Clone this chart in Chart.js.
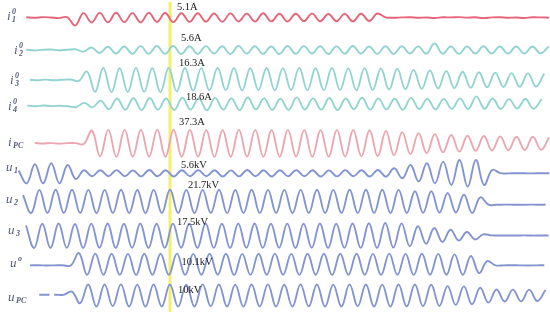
<!DOCTYPE html>
<html>
<head>
<meta charset="utf-8">
<script src="https://cdn.jsdelivr.net/npm/chart.js@4.4.1/dist/chart.umd.min.js"></script>
<style>
    html, body { margin: 0; padding: 0; background: #fff; }
</style>
</head>
<body>
<canvas id="oscilograma" width="550" height="318"></canvas>
<script>
// eixo do tempo em ms (0 = marca amarela), amostras a cada meio ciclo de 50 Hz
const inicioTempo = -208.2;
const fimTempo = 465.4;
const passo = 10;
const instanteMarca = 0;

// picos e vales (A ou kV)
const i1Inicio = -176.0;
const i1 = [0.3, -0.3, 0.4, 0.0, -0.7, 0.3, -9.0,
    5.0, -5.6, 5.2, -5.4, 5.4, -5.2, 5.0, -5.6, 5.3, -5.0, 5.1, -5.2, 4.8, -5.0, 4.9, -4.8, 4.6, -4.9, 4.7, -4.5,
    4.4, -4.6, 4.8, -4.4, 4.2, -4.5, 4.3, -4.1, 4.4, -4.2, 4.0, -4.3, 4.1, -4.4, 4.2, -3.9, 4.5,
    0.2, -0.3, 0.1, 0.3, -0.2, 0.0, -0.6, 0.2, 0.1, 0.4, -0.1, 0.2, -0.7, 0.1, 0.3, -0.2, 0.0, -0.5, 0.2, 0.1, -0.2];

const i2Inicio = -176.1;
const i2 = [0.4, -0.5, 0.3, 0.6, -0.4, 0.3, 1.0, -2.2, 3.5,
    -4.2, 4.6, -5.0, 5.0, -5.3, 5.4, -5.2, 5.6, -5.4, 5.6,
    -5.5, 5.3, -5.6, 5.4, -5.0, 5.2, -5.5, 5.6, -5.1, 5.3,
    -5.4, 5.0, -5.6, 5.5, -5.2, 5.4, -5.0, 5.3, -5.5, 5.1,
    -5.3, 5.6, -5.2, 5.0, -5.4, 5.2, -5.5, 5.3, -5.0, 5.1,
    -5.3, 9.0, -5.2, 5.0, -5.4, 4.9, -5.0, 5.2, -4.8, 5.0,
    -5.1, 4.8, -4.9, 5.0, -4.7, 4.9];

const i3Inicio = -171.7;
const i3 = [0.4, -0.3, 0.5, -0.4, 0.3, 0.6, -1.2, 11.5,
    -16.0, 16.3, -16.5, 16.0, -16.3, 16.5, -16.2, 16.0, -16.4, 16.3,
    -15.5, 16.4, -14.5, 16.2, -14.0, 16.5, -13.8, 16.3, -14.2, 16.0,
    -13.5, 16.4, -14.0, 16.2, -13.6, 16.5, -14.1, 16.0, -13.8, 16.3,
    -13.5, 15.8, -13.9, 16.1, -13.4, 15.6, -13.0, 15.2, -12.5, 13.8,
    -11.8, 13.0, -11.5, 12.0, -11.0, 11.2, -10.5, 10.6, -9.8, 10.0,
    -9.5, 9.4, -9.2, 9.0, -8.8, 8.8];

const i4Inicio = -174.8;
const i4 = [-3.5, -5.2, -3.0, -5.0, -3.8, -5.5, -8.0, 5.0,
    -9.0, 12.0, -15.0, 18.6, -16.5, 19.5, -17.5, 20.0, -16.0, 18.6,
    -17.0, 21.0, -15.5, 19.0, -18.0, 20.5, -16.0, 18.5, -17.5, 21.5,
    -15.0, 19.5, -17.0, 18.0, -16.5, 22.0, -15.5, 19.0, -16.0, 20.0,
    -17.5, 18.5, -14.5, 21.0, -16.0, 19.0, -15.0, 18.0, -16.5, 20.5,
    -14.0, 18.0, -15.5, 17.5, -13.5, 19.0, -14.5, 25.0, -13.0, 18.5,
    -14.0, 16.5, -12.5, 17.0, -13.0, 17.0];

const iPCInicio = -165.6;
const iPC = [0.8, -0.6, 0.5, -0.9, 0.4, 0.5, -2.0, 35.0,
    -36.0, 37.0, -37.5, 37.0, -37.0, 37.5, -36.5, 37.3, -37.0, 37.3,
    -37.0, 37.5, -36.8, 37.0, -37.2, 36.8, -37.0, 37.4, -36.6, 37.0,
    -37.3, 36.9, -37.0, 37.2, -36.7, 37.0, -37.1, 36.8, -36.9, 37.0,
    -36.5, 36.6, -36.2, 36.0, -35.5, 34.0, -33.0, 31.0, -30.0, 28.0,
    -27.0, 25.0, -25.0, 23.0, -23.0, 21.0, -21.0, 20.0, -20.0, 19.0,
    -19.0, 18.0, -18.5, 18.0, -18.0, 17.0];

const u1Inicio = -185.4;
const u1 = [5.0, -18.7,
    16.8, -18.7, 18.7, -18.7, 15.5, -10.6, 5.6, -5.6,
    5.8, -5.4, 6.0, -5.6, 5.5, -5.8, 6.2, -5.5, 5.6, -5.9,
    5.7, -5.6, 6.0, -5.4, 5.8, -6.0, 5.5, -5.7, 6.1, -5.5,
    5.6, -5.9, 5.8, -5.6, 6.0, -5.5, 5.7, -6.1, 5.5, -5.8,
    6.0, -5.6, 5.8, -6.0,
    6.2, -6.2, 9.3, -9.3, 15.5, -15.5, 18.7, -18.7, 21.8, -21.8, 24.8, -24.8, 24.8, -21.8, 6.2,
    0.3, -0.2, 0.2, 0.0, -0.1, 0.2, 0.0];

const u2Inicio = -180.0;
const u2 = [12.0,
    -21.7, 21.5, -21.3, 21.7, -21.5, 21.8, -21.4, 21.6, -21.7, 21.5,
    -21.3, 21.7, -21.6, 21.4, -21.8, 21.6, -21.5, 21.7, -21.4, 21.6,
    -21.7, 21.5, -21.3, 21.8, -21.6, 21.4, -21.5, 21.7, -21.6, 21.5,
    -21.4, 21.6, -21.7, 21.5, -21.3, 21.8, -21.5, 21.6, -21.4, 21.7, -21.5,
    21.9, -21.3, 21.9, -21.3, 21.5, -21.3, 18.9, -21.0, 18.9, -20.5, 15.8, -20.5, 12.6, -21.3, 7.8, -5.9,
    -6.0, -5.8, -5.9, -6.0, -5.8, -5.9, -5.9];

const u3Inicio = -176.4;
const u3 = [14.0,
    -17.5, 16.5, -17.5, 16.8, -17.3, 16.2, -17.6, 16.6, -17.2, 16.9,
    -17.5, 16.4, -17.3, 16.8, -17.5, 16.5, -17.4, 16.7, -17.2, 16.4,
    -17.6, 16.8, -17.3, 16.5, -17.5, 16.6, -17.2, 16.9, -17.4, 16.5,
    -17.3, 16.7, -17.5, 16.4, -17.2, 16.8, -17.6, 16.5, -17.3, 16.9,
    -17.4, 17.2, -17.5,
    17.5, -17.0, 17.0, -15.0, 13.0, -11.5, 10.5, -9.0, 8.0, -7.0, 5.0, -5.5, 1.5,
    0.2, -0.1, 0.1, 0.0, 0.2, -0.1, 0.0, 0.1];

const u0Inicio = -171.5;
const u0 = [-1.0, -0.9, -1.1, -1.0, -0.9, -1.2, 10.8,
    -10.1, 10.3, -10.0, 10.2, -10.1, 10.0, -10.3, 10.1, -10.0, 10.2,
    -10.1, 10.3, -10.2, 10.0, -10.1, 10.2, -10.0, 10.1, -10.3, 10.0,
    -10.2, 10.1, -10.0, 10.3, -10.1, 10.0, -10.2, 10.1, -10.0, 10.2,
    -10.3, 10.1, -10.0, 10.2, -10.1, 10.0, -10.2, 10.3, -10.1, 10.0,
    -10.2, 10.1, -10.0, 10.0, -10.1,
    9.5, -10.0, 8.0, -8.5, 3.0, -1.0,
    -1.0, -0.9, -1.0, -1.1, -1.0, -0.9];

const uPCInicio = -160.1;
const uPC = [0.7, 0.7, 0.7, 0.7, 3.5, -7.0, 10.0,
    -10.0, 10.0, -9.8, 10.1, -10.0, 9.9, -10.1, 10.0, -9.9, 10.0,
    -10.1, 9.9, -10.0, 10.1, -9.8, 10.0, -10.0, 9.9, -10.1, 10.0,
    -9.9, 10.1, -10.0, 9.8, -10.0, 10.1, -9.9, 10.0, -10.1, 9.9,
    -10.0, 10.1, -9.8, 10.0, -10.0, 9.9, -10.1, 10.0, -9.9, 10.0, -9.8,
    9.8, -9.5, 8.5, -8.5, 8.3, -8.0, 7.0, -6.5, 5.5, -5.5, 5.3, -5.3, 5.3, -5.0, 5.0];

const nomesCanais = [
    { letra: 'i', sup: '0', sub: '1' },
    { letra: 'i', sup: '0', sub: '2' },
    { letra: 'i', sup: '0', sub: '3' },
    { letra: 'i', sup: '0', sub: '4' },
    { letra: 'i', sup: '', sub: 'PC' },
    { letra: 'u', sup: '', sub: '1' },
    { letra: 'u', sup: '', sub: '2' },
    { letra: 'u', sup: '', sub: '3' },
    { letra: 'u', sup: 'o', sub: '' },
    { letra: 'u', sup: '', sub: 'PC' }
];
const valoresMarca = ['5.1A', '5.6A', '16.3A', '18.6A', '37.3A', '5.6kV', '21.7kV', '17.5kV', '10.1kV', '10kV'];

// layout de cada canal: linha de base (px), ganho (px por unidade), cor
const altura = 318;
const canais = [
    { serie: i1, inicio: i1Inicio, base: 17.5, ganho: 0.882, cor: '#e6657a' },
    { serie: i2, inicio: i2Inicio, base: 50, ganho: 0.714, cor: '#93d4d0' },
    { serie: i3, inicio: i3Inicio, base: 80, ganho: 0.736, cor: '#93d4d0' },
    { serie: i4, inicio: i4Inicio, base: 104.5, ganho: 0.323, cor: '#93d4d0' },
    { serie: iPC, inicio: iPCInicio, base: 143.3, ganho: 0.362, cor: '#eba6b1' },
    { serie: u1, inicio: u1Inicio, base: 173.3, ganho: 0.536, cor: '#8494d0' },
    { serie: u2, inicio: u2Inicio, base: 201.5, ganho: 0.539, cor: '#8494d0' },
    { serie: u3, inicio: u3Inicio, base: 235.5, ganho: 0.714, cor: '#8494d0' },
    { serie: u0, inicio: u0Inicio, base: 264.3, ganho: 1.04, cor: '#8494d0' },
    { serie: uPC, inicio: uPCInicio, base: 295.5, ganho: 1.1, cor: '#8494d0' }
];
const posNomes = [[7, 20], [14, 54], [10, 84], [8, 110], [8, 146], [6, 171], [6, 203], [8, 234], [10, 267], [8, 301]];
const posValores = [[7, 7], [11, 38], [9, 63], [16, 97], [9, 122], [11, 165], [18, 185], [7, 222], [11.5, 262], [8, 290]];

window.onload = criarGrafico;

function criarGrafico() {
    const datasets = new Array();
    const escalas = {
        x: { type: 'linear', display: false, min: inicioTempo, max: fimTempo }
    };

    canais.forEach((canal, n) => {
        const eixo = 'y' + n;
        escalas[eixo] = {
            type: 'linear',
            display: false,
            min: -(altura - canal.base) / canal.ganho,
            max: canal.base / canal.ganho
        };
        datasets.push({
            data: canal.serie.map((v, k) => ({ x: canal.inicio + k * passo, y: v })),
            yAxisID: eixo,
            borderColor: canal.cor,
            borderWidth: 1.9,
            pointRadius: 0,
            tension: 0.4,
            // trecho inicial tracejado do u_PC
            segment: n == 9 ? { borderDash: ctx => ctx.p1DataIndex <= 3 ? [10, 5] : undefined } : undefined
        });
    });

    new Chart(document.querySelector('#oscilograma'), {
        type: 'line',
        data: { datasets: datasets },
        options: {
            responsive: false,
            animation: false,
            layout: { padding: 0 },
            scales: escalas,
            plugins: { legend: { display: false }, tooltip: { enabled: false } }
        },
        plugins: [marcaAmarela, rotulos]
    });
}

const marcaAmarela = {
    id: 'marcaAmarela',
    beforeDatasetsDraw(chart) {
        const x = chart.scales.x.getPixelForValue(instanteMarca);
        const ctx = chart.ctx;
        ctx.save();
        ctx.strokeStyle = '#f4ef6a';
        ctx.lineWidth = 3;
        ctx.beginPath();
        ctx.moveTo(x, 2);
        ctx.lineTo(x, 312);
        ctx.stroke();
        ctx.restore();
    }
};

const rotulos = {
    id: 'rotulos',
    afterDatasetsDraw(chart) {
        const ctx = chart.ctx;
        const xMarca = chart.scales.x.getPixelForValue(instanteMarca);
        ctx.save();
        ctx.fillStyle = '#222';
        ctx.font = '10.5px "Liberation Serif"';
        ctx.textBaseline = 'middle';
        valoresMarca.forEach((texto, n) => {
            ctx.fillText(texto, xMarca + posValores[n][0], posValores[n][1]);
        });

        ctx.textBaseline = 'alphabetic';
        ctx.fillStyle = '#555d7a';
        nomesCanais.forEach((nome, n) => {
            const [x, y] = posNomes[n];
            ctx.font = 'italic 13px "Liberation Serif"';
            ctx.fillText(nome.letra, x, y);
            const w = ctx.measureText(nome.letra).width + 1.5;
            ctx.font = 'italic bold 8px "Liberation Serif"';
            if (nome.sup) ctx.fillText(nome.sup, x + w, y - 6);
            if (nome.sub) ctx.fillText(nome.sub, x + w, y + 2);
        });
        ctx.restore();
    }
};
</script>
</body>
</html>
